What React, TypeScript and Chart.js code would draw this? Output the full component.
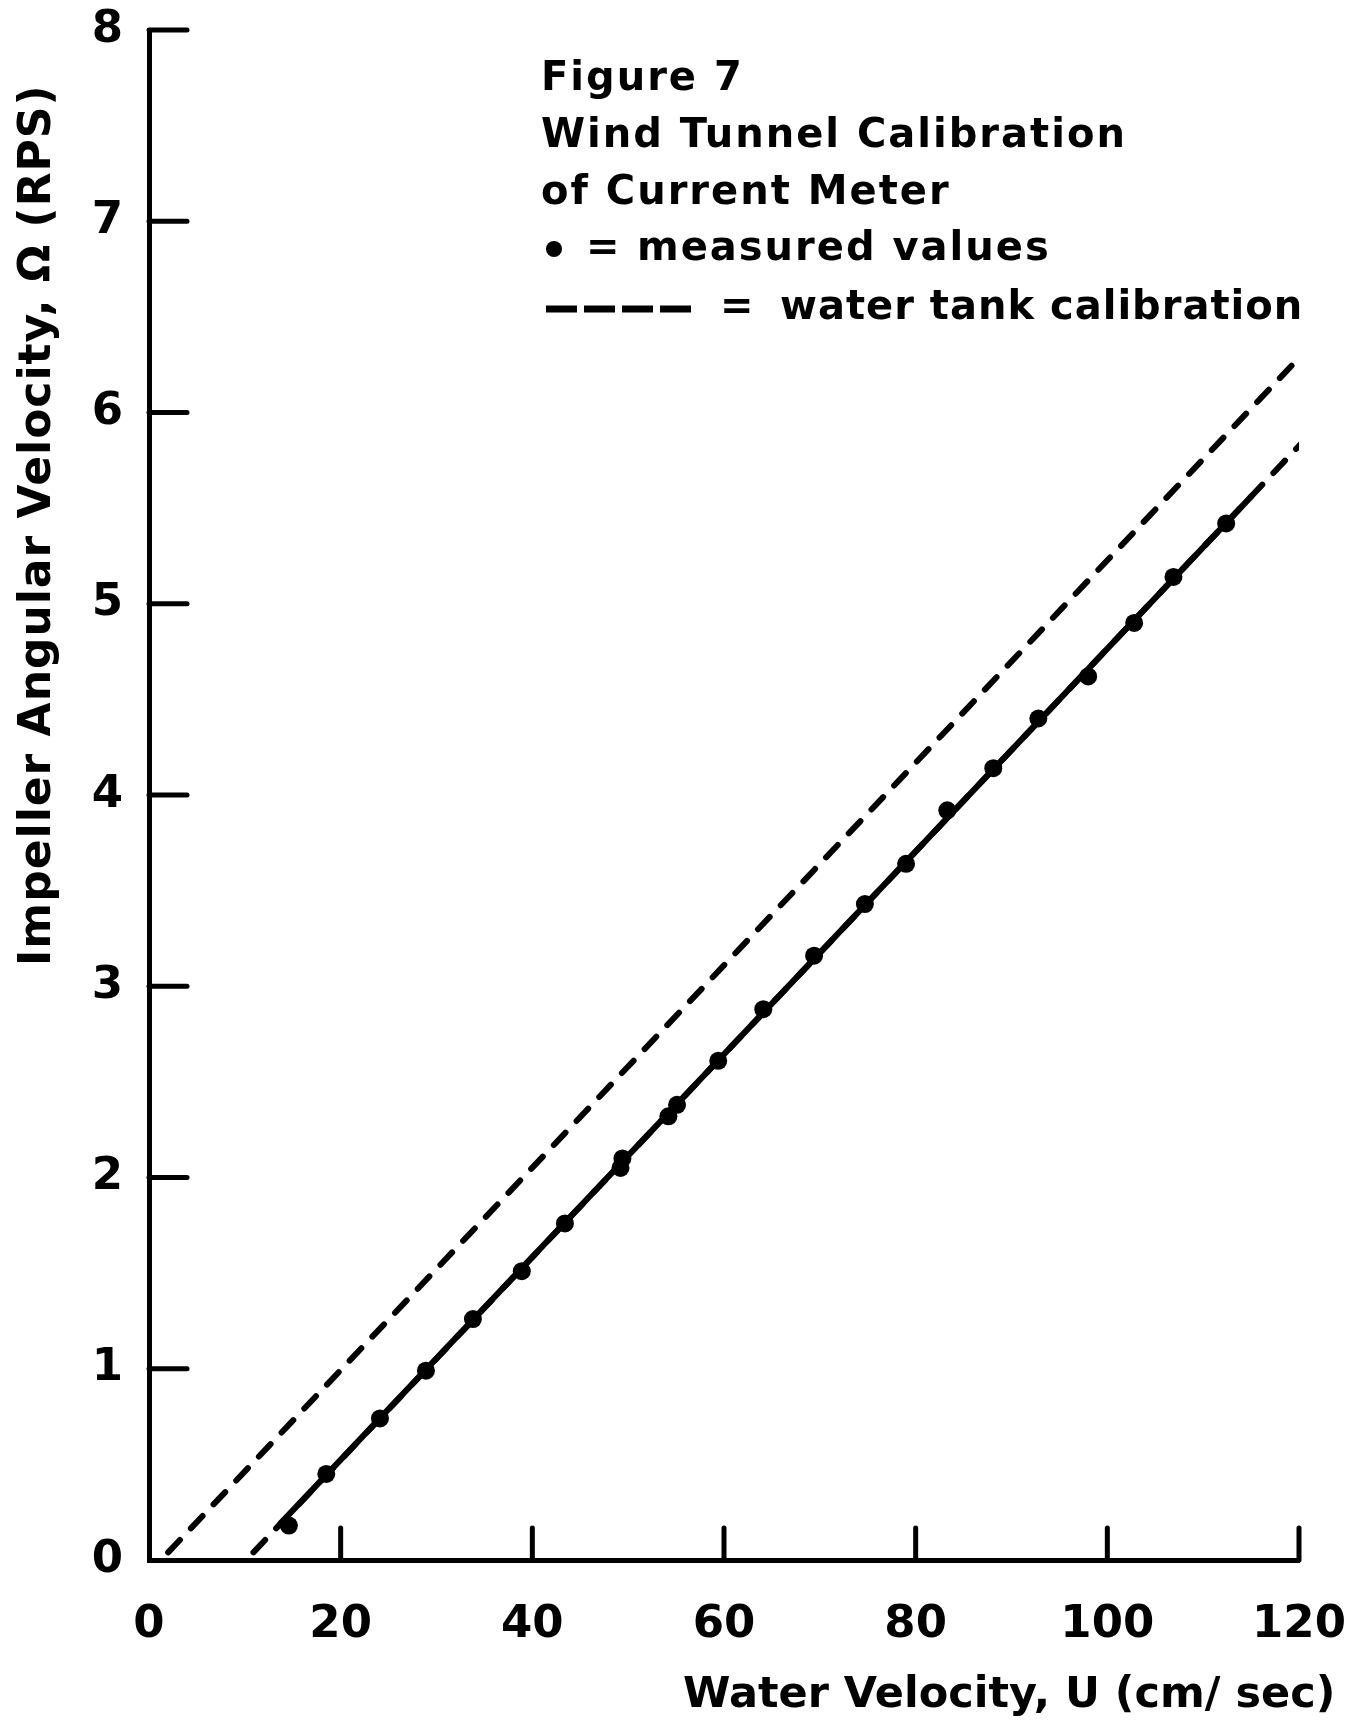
import React, { useEffect, useRef } from "react";
import { Chart, registerables } from "chart.js";

Chart.register(...registerables);

// Water velocity U (cm/sec) and impeller angular velocity Ω (RPS) for each measured run
const measuredU = [14.6, 18.5, 24.1, 28.9, 33.8, 38.9, 43.4, 49.2, 49.4, 54.2, 55.1, 59.4, 64.1, 69.4, 74.7, 79.0, 83.3, 88.1, 92.8, 98.0, 102.8, 106.9, 112.4];
const measuredOmega = [0.18, 0.45, 0.74, 0.99, 1.26, 1.51, 1.76, 2.05, 2.10, 2.32, 2.38, 2.61, 2.88, 3.16, 3.43, 3.64, 3.92, 4.14, 4.40, 4.62, 4.90, 5.14, 5.42];

// Straight fit through the wind tunnel points (solid part) and its extension (dashed)
const fitU = [13.7, 115.0];
const fitOmega = [0.19, 5.56];
const fitExtU = [10.9, 121.4];
const fitExtOmega = [0.04, 5.9];

// Water tank calibration line
const tankU = [2.0, 121.4];
const tankOmega = [0.04, 6.36];

// Axis ticks
const xTicks = [0, 20, 40, 60, 80, 100, 120];
const yTicks = [0, 1, 2, 3, 4, 5, 6, 7, 8];

const captionLines = ["Figure 7", "Wind Tunnel Calibration", "of Current Meter"];
const legendMeasured = "measured values";
const legendTank = "water tank calibration";
const yTitle = "Impeller Angular Velocity, Ω (RPS)";
const xTitle = "Water Velocity, U (cm/ sec)";

const FONT = "'DejaVu Sans', 'Liberation Sans', sans-serif";
const INK = "#000";

const pairs = (xs: number[], ys: number[]) => xs.map((x, i) => ({ x, y: ys[i] }));

// keep tick labels from pushing the plot area inwards
const noLabelPadding = (scale: any) => {
  scale.paddingLeft = 0;
  scale.paddingRight = 0;
  scale.paddingTop = 0;
  scale.paddingBottom = 0;
};

const annotationPlugin = {
  id: "figureAnnotations",
  afterDraw(chart: any) {
    const { ctx, chartArea, scales } = chart;
    const xs = scales.x;
    const ys = scales.y;
    ctx.save();
    ctx.strokeStyle = INK;
    ctx.fillStyle = INK;
    ctx.lineWidth = 5;
    ctx.lineCap = "round";

    // inward tick marks on the y axis
    ys.ticks.forEach((t: any) => {
      if (t.value === 0) return;
      const py = ys.getPixelForValue(t.value);
      ctx.beginPath();
      ctx.moveTo(chartArea.left, py);
      ctx.lineTo(chartArea.left + 38, py);
      ctx.stroke();
    });
    // inward tick marks on the x axis
    xs.ticks.forEach((t: any) => {
      if (t.value === 0) return;
      const px = xs.getPixelForValue(t.value);
      ctx.beginPath();
      ctx.moveTo(px, chartArea.bottom);
      ctx.lineTo(px, chartArea.bottom - 32);
      ctx.stroke();
    });

    // caption block
    const setSpacing = (v: string) => {
      if ("letterSpacing" in ctx) (ctx as any).letterSpacing = v;
    };
    ctx.font = `bold 40px ${FONT}`;
    ctx.textBaseline = "middle";
    ctx.textAlign = "left";
    setSpacing("2px");
    const left = 541;
    const rows = [80, 137, 194, 250, 309];
    captionLines.forEach((line, i) => ctx.fillText(line, left, rows[i]));

    // measured values key
    ctx.beginPath();
    ctx.arc(554, rows[3] - 1, 8, 0, Math.PI * 2);
    ctx.fill();
    ctx.fillText("=", 586, rows[3]);
    ctx.fillText(legendMeasured, 637, rows[3]);

    // water tank calibration key
    ctx.lineWidth = 7;
    ctx.lineCap = "butt";
    for (let i = 0; i < 4; i++) {
      const x0 = 546 + i * 38;
      ctx.beginPath();
      ctx.moveTo(x0, rows[4]);
      ctx.lineTo(x0 + 31, rows[4]);
      ctx.stroke();
    }
    ctx.fillText("=", 720, rows[4]);
    setSpacing("1px");
    ctx.fillText(legendTank, 780, rows[4]);

    // axis titles
    ctx.font = `bold 43px ${FONT}`;
    setSpacing("0px");
    ctx.textAlign = "left";
    ctx.fillText(xTitle, 683, 1696);

    ctx.font = `bold 44px ${FONT}`;
    setSpacing("1px");
    ctx.save();
    ctx.translate(39, 966);
    ctx.rotate(-Math.PI / 2);
    ctx.textAlign = "left";
    ctx.fillText(yTitle, 0, 0);
    ctx.restore();

    ctx.restore();
  },
};

export default function App() {
  const canvasRef = useRef<HTMLCanvasElement | null>(null);

  useEffect(() => {
    document.body.style.margin = "0";
    const canvas = canvasRef.current;
    if (!canvas) return;

    const tickFont = { family: FONT, weight: "bold" as const, size: 45 };

    const chart = new Chart(canvas, {
      type: "scatter",
      data: {
        datasets: [
          {
            label: "water tank calibration",
            data: pairs(tankU, tankOmega),
            showLine: true,
            borderColor: INK,
            borderWidth: 6,
            borderDash: [17, 16],
            borderCapStyle: "round",
            pointRadius: 0,
          },
          {
            label: "fit extension",
            data: pairs(fitExtU, fitExtOmega),
            showLine: true,
            borderColor: INK,
            borderWidth: 6,
            borderDash: [17, 16],
            borderCapStyle: "round",
            pointRadius: 0,
          },
          {
            label: "fit",
            data: pairs(fitU, fitOmega),
            showLine: true,
            borderColor: INK,
            borderWidth: 6,
            borderCapStyle: "round",
            pointRadius: 0,
          },
          {
            label: "measured values",
            data: pairs(measuredU, measuredOmega),
            showLine: false,
            backgroundColor: INK,
            borderColor: INK,
            borderWidth: 0,
            pointRadius: 9,
          },
        ],
      },
      options: {
        responsive: false,
        animation: false,
        devicePixelRatio: 1,
        layout: { padding: { top: 30, right: 47, left: 0, bottom: 0 } },
        plugins: {
          legend: { display: false },
          tooltip: { enabled: false },
        },
        scales: {
          x: {
            type: "linear",
            min: 0,
            max: 120,
            afterBuildTicks: (scale: any) => {
              scale.ticks = xTicks.map((v) => ({ value: v }));
            },
            afterFit: (scale: any) => {
              scale.height = 161;
              noLabelPadding(scale);
            },
            ticks: {
              color: INK,
              font: tickFont,
              padding: 38,
              maxRotation: 0,
              autoSkip: false,
            },
            grid: { display: false, drawTicks: false },
            border: { display: true, color: INK, width: 5 },
          },
          y: {
            type: "linear",
            min: 0,
            max: 8,
            afterBuildTicks: (scale: any) => {
              scale.ticks = yTicks.map((v) => ({ value: v }));
            },
            afterFit: (scale: any) => {
              scale.width = 149;
              noLabelPadding(scale);
            },
            ticks: {
              color: INK,
              font: tickFont,
              padding: 26,
              autoSkip: false,
            },
            grid: { display: false, drawTicks: false },
            border: { display: true, color: INK, width: 5 },
          },
        },
      },
      plugins: [annotationPlugin],
    });

    return () => chart.destroy();
  }, []);

  return (
    <div style={{ width: 1346, height: 1721, background: "#fff" }}>
      <canvas ref={canvasRef} width={1346} height={1721} style={{ display: "block", width: 1346, height: 1721 }} />
    </div>
  );
}
